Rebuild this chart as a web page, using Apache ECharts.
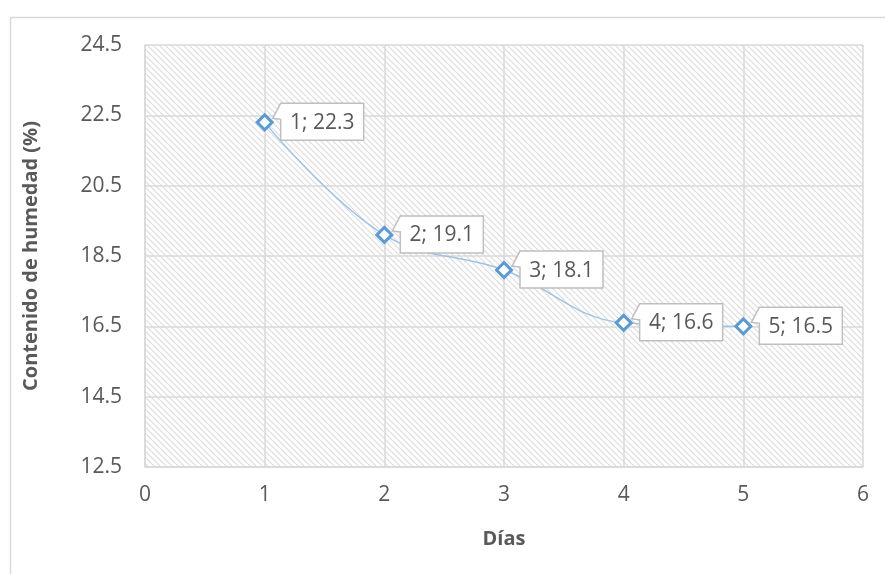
<!DOCTYPE html>
<html>
<head>
<meta charset="utf-8">
<script src="https://cdn.jsdelivr.net/npm/echarts@6/dist/echarts.min.js"></script>
<style>
  html, body { margin: 0; padding: 0; background: #fff; }
  #chart { width: 885px; height: 574px; }
</style>
</head>
<body>
<div id="chart"></div>
<script>
// Moisture content over drying days
const dias = [1, 2, 3, 4, 5];
const humedad = [22.3, 19.1, 18.1, 16.6, 16.5];

// Y axis runs 12.5 .. 24.5 in steps of 2
const Y_BASE = 12.5;
const Y_SPAN = 12;
const Y_STEP = 2;
const X_MIN = 0, X_MAX = 6, X_STEP = 1;

const FONT = '"Open Sans", "Noto Sans", sans-serif';
const TEXT_COLOR = '#595959';
const GRID_COLOR = '#D9D9D9';

// Diagonal hatch tile for the plot background
function hatchTile() {
  const s = 6;
  const c = document.createElement('canvas');
  c.width = s; c.height = s;
  const g = c.getContext('2d');
  g.fillStyle = '#ffffff';
  g.fillRect(0, 0, s, s);
  g.strokeStyle = '#dcdcdc';
  g.lineWidth = 1.1;
  g.beginPath();
  g.moveTo(-1, -1); g.lineTo(s + 1, s + 1);
  g.moveTo(-1, s - 1); g.lineTo(1, s + 1);
  g.moveTo(s - 1, -1); g.lineTo(s + 1, 1);
  g.stroke();
  return c;
}

const lineData = dias.map((d, i) => [d, humedad[i] - Y_BASE]);
const calloutData = dias.map((d, i) => [d, humedad[i] - Y_BASE, humedad[i]]);

const chart = echarts.init(document.getElementById('chart'), null, { renderer: 'canvas' });

chart.setOption({
  animation: false,
  backgroundColor: '#ffffff',
  graphic: [{
    type: 'rect',
    left: 8, top: 15,
    shape: { width: 1000, height: 1000 },
    style: { fill: 'none', stroke: GRID_COLOR, lineWidth: 1.5 },
    z: -1
  }],
  grid: {
    left: 145, right: 22, top: 45, bottom: 107,
    show: true,
    borderWidth: 0,
    backgroundColor: { image: hatchTile(), repeat: 'repeat' }
  },
  xAxis: {
    type: 'value',
    min: X_MIN, max: X_MAX, interval: X_STEP,
    name: 'Días',
    nameLocation: 'middle',
    nameGap: 62,
    nameTextStyle: { fontFamily: FONT, fontSize: 20, fontWeight: 'bold', color: TEXT_COLOR },
    axisLine: { show: true, lineStyle: { color: GRID_COLOR, width: 1.5 } },
    axisTick: { show: false },
    axisLabel: { fontFamily: FONT, fontSize: 21, color: TEXT_COLOR, margin: 18 },
    splitLine: { show: true, lineStyle: { color: GRID_COLOR, width: 1.5 } }
  },
  yAxis: {
    type: 'value',
    min: 0, max: Y_SPAN, interval: Y_STEP,
    name: 'Contenido de humedad (%)',
    nameLocation: 'middle',
    nameGap: 104,
    nameTextStyle: { fontFamily: FONT, fontSize: 20, fontWeight: 'bold', color: TEXT_COLOR },
    axisLine: { show: true, lineStyle: { color: GRID_COLOR, width: 1.5 } },
    axisTick: { show: false },
    axisLabel: {
      fontFamily: FONT, fontSize: 21, color: TEXT_COLOR, margin: 23,
      formatter: v => (v + Y_BASE).toFixed(1)
    },
    splitLine: { show: true, lineStyle: { color: GRID_COLOR, width: 1.5 } }
  },
  series: [
    {
      type: 'line',
      data: lineData,
      smooth: 0.4,
      symbol: 'diamond',
      symbolSize: 15,
      lineStyle: { color: '#9DC3E6', width: 1.5 },
      itemStyle: { color: '#ffffff', borderColor: '#5B9BD5', borderWidth: 3 },
      z: 3
    },
    {
      // Callout boxes with pointer toward each point
      type: 'custom',
      data: calloutData,
      z: 5,
      renderItem: (params, api) => {
        const x = api.value(0);
        const p = api.coord([x, api.value(1)]);
        const orig = api.value(2);
        const px = p[0], py = p[1];
        const L = px + 16, T = py - 19, W = 83, H = 37;
        const R = L + W, B = T + H;
        return {
          type: 'group',
          children: [
            {
              type: 'polygon',
              shape: { points: [[L, T], [R, T], [R, B], [L, B], [L, T + 16], [px + 8, py - 4]] },
              style: { fill: '#ffffff', stroke: '#BFBFBF', lineWidth: 1.5 }
            },
            {
              type: 'text',
              style: {
                x: (L + R) / 2, y: (T + B) / 2 + 1,
                text: x + '; ' + orig.toFixed(1),
                font: '21px ' + FONT,
                fill: TEXT_COLOR,
                align: 'center',
                verticalAlign: 'middle'
              }
            }
          ]
        };
      }
    }
  ]
});
</script>
</body>
</html>
